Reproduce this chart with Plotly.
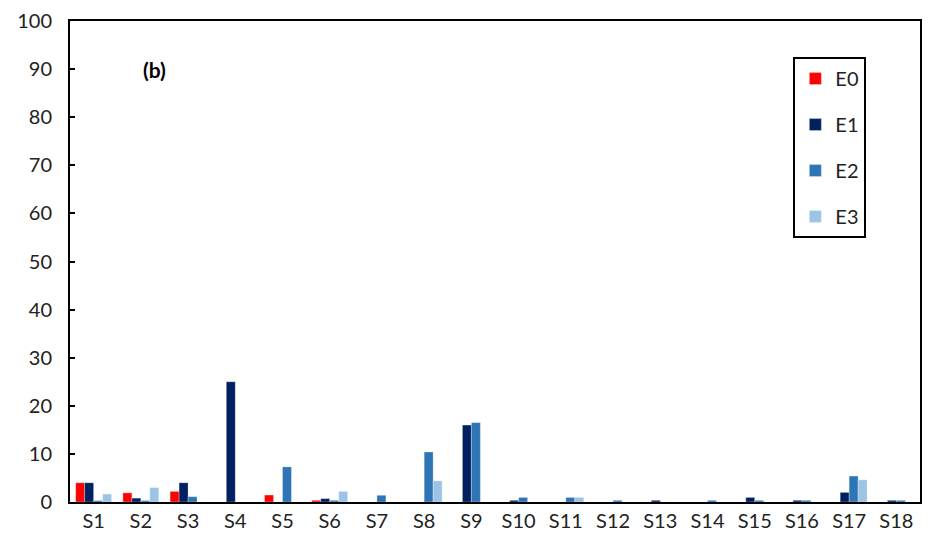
import plotly.graph_objects as go

categories = [f"S{i}" for i in range(1, 19)]
E0 = [4.0, 1.9, 2.2, 0, 1.45, 0.35, 0, 0, 0, 0, 0, 0, 0, 0, 0, 0, 0, 0]
E1 = [4.0, 0.8, 4.0, 25.0, 0, 0.7, 0, 0, 16.0, 0.35, 0, 0, 0.35, 0, 0.95, 0.35, 2.0, 0.35]
E2 = [0.3, 0.3, 1.1, 0, 7.3, 0.35, 1.4, 10.4, 16.5, 0.95, 0.95, 0.35, 0, 0.35, 0.35, 0.35, 5.4, 0.35]
E3 = [1.65, 3.0, 0, 0, 0, 2.2, 0, 4.4, 0, 0, 0.95, 0, 0, 0, 0, 0, 4.6, 0]
series_names = ["E0", "E1", "E2", "E3"]
colors = ["#FF0000", "#002060", "#2E75B6", "#9DC3E6"]
y_ticks = list(range(0, 101, 10))

fig = go.Figure()
for name, vals, col in zip(series_names, [E0, E1, E2, E3], colors):
    fig.add_trace(go.Bar(
        x=categories, y=vals, name=name, legendgroup=name,
        marker=dict(color=col, line=dict(color="rgba(255,255,255,0.6)", width=0.5)),
    ))

font_family = "Lato, 'Noto Sans', sans-serif"
fig.update_layout(
    width=914, height=539,
    margin=dict(l=62, r=2, t=13, b=45),
    paper_bgcolor="white", plot_bgcolor="white",
    barmode="group", bargap=0.24, bargroupgap=0,
    font=dict(family=font_family, size=20, color="#222"),
    showlegend=True,
    legend=dict(
        x=0.851, y=0.925, xanchor="left", yanchor="top",
        bordercolor="black", borderwidth=2, bgcolor="white",
        tracegroupgap=17, font=dict(size=20),
        itemwidth=30,
    ),
    xaxis=dict(
        showline=True, linecolor="black", linewidth=2, mirror=True,
        ticks="", showgrid=False, automargin=False,
    ),
    yaxis=dict(
        range=[0, 100], tickvals=y_ticks,
        showline=True, linecolor="black", linewidth=2, mirror=True,
        ticks="inside", ticklen=5, tickwidth=2, tickcolor="black",
        ticklabelstandoff=12, ticklabeloverflow="allow", automargin=False,
        showgrid=False, zeroline=False,
    ),
    annotations=[dict(
        text="<b>(b)</b>", x=0.099, y=90, xref="paper", yref="y",
        xanchor="center", yanchor="middle",
        showarrow=False, font=dict(size=21, family=font_family, color="black"),
    )],
)

fig.write_html("out.html")
